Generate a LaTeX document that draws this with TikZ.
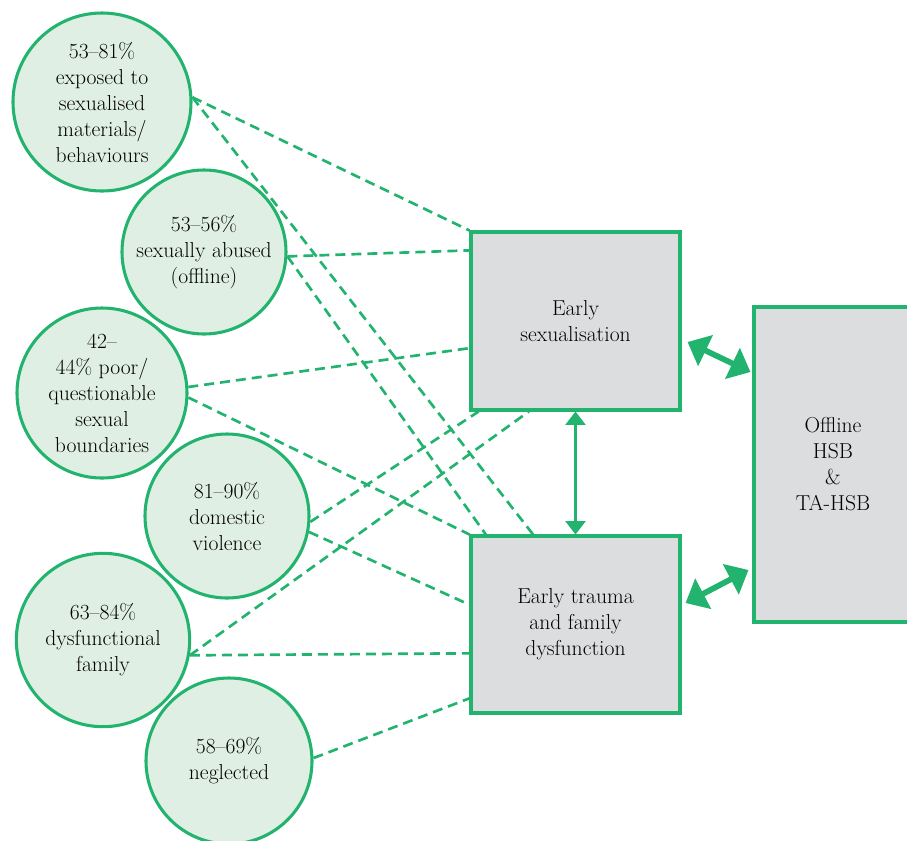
\documentclass[tikz,border=0pt]{standalone}
\usetikzlibrary{arrows.meta,calc}
\definecolor{hsbgreen}{RGB}{34,179,110}
\definecolor{circfill}{RGB}{224,239,227}
\definecolor{boxfill}{RGB}{220,221,223}
\begin{document}
\begin{tikzpicture}[x=0.75pt,y=-0.75pt,
	factor/.style={draw=hsbgreen,line width=2.3pt,fill=circfill,circle,inner sep=0pt,align=center,font=\fontsize{16.2}{19.5}\selectfont},
	outcome/.style={draw=hsbgreen,line width=2.3pt,fill=boxfill,rectangle,inner sep=0pt,align=center,font=\fontsize{16.2}{19.5}\selectfont},
	link/.style={draw=hsbgreen,line width=2pt,dash pattern=on 7.5pt off 4.5pt},
	thinarr/.style={draw=hsbgreen,line width=1.6pt,{Triangle[length=10pt,width=15pt]}-{Triangle[length=10pt,width=15pt]}},
	fatarr/.style={draw=hsbgreen,line width=4.3pt,{Triangle[length=15pt,width=25pt]}-{Triangle[length=15pt,width=25pt]}}]
	\useasboundingbox (0,0) rectangle (907,840);
	\clip (0,0) rectangle (907,840);

	\node[factor,minimum size=133.5pt] (exp) at (102,102) {53\textendash81\%\\exposed to\\sexualised\\materials/\\behaviours};
	\node[factor,minimum size=123pt] (abu) at (204,252) {53\textendash56\%\\sexually abused\\(offline)};
	\node[factor,minimum size=127.5pt] (bound) at (102,393) {42\textendash\\44\% poor/\\questionable\\sexual\\boundaries};
	\node[factor,minimum size=123pt] (dv) at (227,516) {81\textendash90\%\\domestic\\violence};
	\node[factor,minimum size=130pt] (dysf) at (103,640) {63\textendash84\%\\dysfunctional\\family};
	\node[factor,minimum size=124.5pt] (negl) at (229,761) {58\textendash69\%\\neglected};

	\node[outcome,minimum width=156.75pt,minimum height=133.5pt] (sex) at (575.5,321) {Early\\sexualisation};
	\node[outcome,minimum width=156.75pt,minimum height=132.75pt] (trauma) at (575.5,624.5) {Early trauma\\and family\\dysfunction};
	\node[outcome,minimum width=118.5pt,minimum height=236.25pt] (hsb) at (833,464.5) {Offline\\HSB\\\&\\TA-HSB};

	% dashed links to the two boxes
	\draw[link] (exp.3) -- (sex.north west);
	\draw[link] (exp.3) -- ($(trauma.north west)!0.3!(trauma.north east)$);
	\draw[link] (abu.-3) -- ($(sex.north west)!0.11!(sex.south west)$);
	\draw[link] (abu.-3) -- ($(trauma.north west)!0.077!(trauma.north east)$);
	\draw[link] (bound.4) -- ($(sex.north west)!0.65!(sex.south west)$);
	\draw[link] (bound.-3) -- (trauma.north west);
	\draw[link] (dv.-4) -- ($(sex.south west)!0.043!(sex.south east)$);
	\draw[link] (dv.-11) -- ($(trauma.north west)!0.39!(trauma.south west)$);
	\draw[link] (dysf.-10) -- ($(sex.south west)!0.28!(sex.south east)$);
	\draw[link] (dysf.-10) -- ($(trauma.north west)!0.66!(trauma.south west)$);
	\draw[link] (negl.2) -- ($(trauma.north west)!0.91!(trauma.south west)$);

	\draw[thinarr] (sex.south) -- (trauma.north);
	\draw[fatarr] ([shift={(6,21)}]sex.east) -- ([shift={(-2,-92.5)}]hsb.west);
	\draw[fatarr] ([shift={(4,-21.5)}]trauma.east) -- ([shift={(-4,105.5)}]hsb.west);
\end{tikzpicture}
\end{document}
